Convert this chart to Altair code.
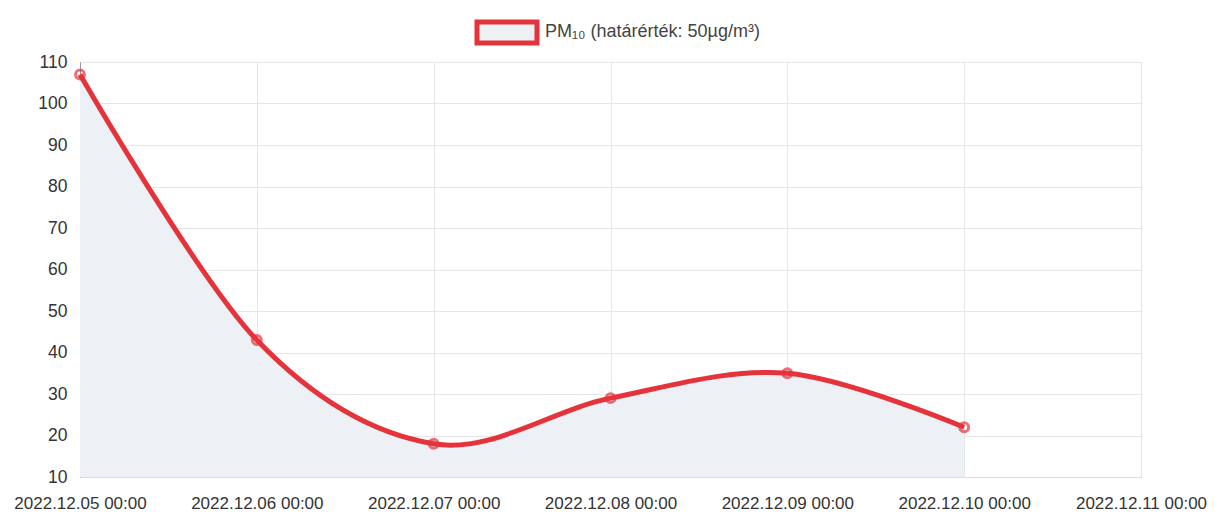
import altair as alt
import pandas as pd

dates = ["2022-12-05T00:00:00", "2022-12-06T00:00:00", "2022-12-07T00:00:00",
         "2022-12-08T00:00:00", "2022-12-09T00:00:00", "2022-12-10T00:00:00"]
pm10 = [107, 43, 18, 29, 35, 22]
tick_days = [5, 6, 7, 8, 9, 10, 11]
legend_label = ["PM\u2081\u2080 (határérték: 50µg/m³)"]

df = pd.DataFrame({"date": dates, "pm10": pm10})

FONT = "Liberation Sans, Arial, sans-serif"
RED = "#e5333b"
FILL = "#edf1f5"

xscale = alt.Scale(domain=[alt.DateTime(year=2022, month=12, date=5),
                           alt.DateTime(year=2022, month=12, date=11)])
yscale = alt.Scale(domain=[10, 110], zero=False, nice=False)

xaxis = alt.Axis(values=[alt.DateTime(year=2022, month=12, date=d) for d in tick_days],
                 format="%Y.%m.%d %H:%M", title=None, labelFont=FONT, labelFontSize=17,
                 labelColor="#333", labelPadding=18, ticks=False, domainColor="#ddd",
                 gridColor="#e6e6e6", labelFlush=False, labelOverlap=False)
yaxis = alt.Axis(values=list(range(10, 111, 10)), title=None, labelFont=FONT,
                 labelFontSize=17.5, labelColor="#333", labelPadding=13, ticks=False,
                 domainColor="#999", gridColor="#e6e6e6")

base = alt.Chart(df).encode(
    x=alt.X("date:T", scale=xscale, axis=xaxis),
    y=alt.Y("pm10:Q", scale=yscale, axis=yaxis),
)

area = base.mark_area(interpolate="cardinal", color=FILL, opacity=1).encode(
    y2=alt.datum(10)
)
line = base.mark_line(interpolate="cardinal", color=RED, strokeWidth=5)
pts = base.mark_point(shape="circle", filled=False, color=RED, strokeWidth=3, size=80)

leg_df = pd.DataFrame({"label": legend_label})
leg_box = alt.Chart(leg_df).mark_rect(fill="#eef1f4", stroke=RED, strokeWidth=5).encode(
    x=alt.value(397), x2=alt.value(457), y=alt.value(-40), y2=alt.value(-19)
)
leg_text = alt.Chart(leg_df).mark_text(align="left", baseline="middle", font=FONT,
                                       fontSize=18, color="#444").encode(
    x=alt.value(465), y=alt.value(-30), text="label:N"
)

chart = alt.layer(area, line, pts, leg_box, leg_text).properties(
    width=1061, height=415,
    autosize=alt.AutoSizeParams(type="none"),
    padding={"left": 72, "top": 54, "right": 66, "bottom": 38},
).configure_view(stroke=None).configure(background="white")

chart.save("out.html", embed_options={"renderer": "svg", "actions": False})
